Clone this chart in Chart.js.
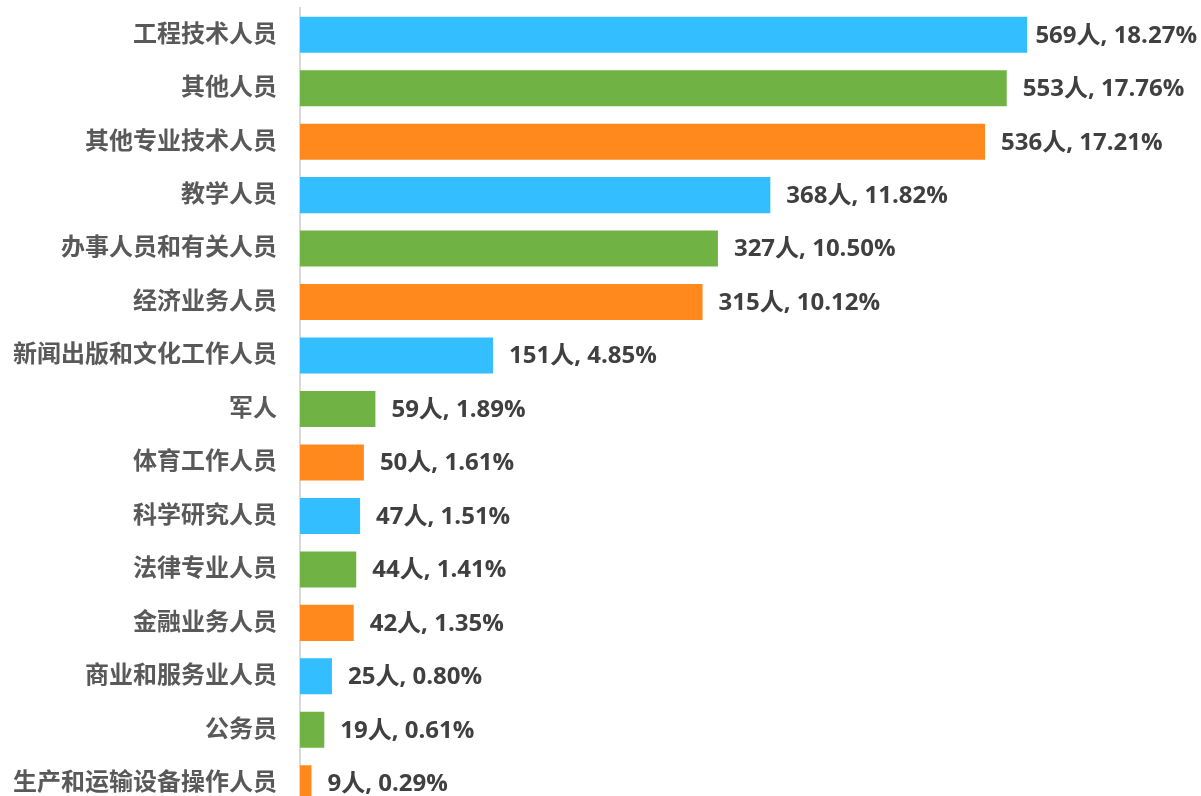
<!DOCTYPE html>
<html>
<head>
<meta charset="utf-8">
<script src="https://cdn.jsdelivr.net/npm/chart.js@4"></script>
<style>
  html, body { margin: 0; padding: 0; background: #fff; overflow: hidden; }
  #wrap { width: 1201px; height: 810px; }
</style>
</head>
<body>
<div id="wrap"><canvas id="chartCanvas" width="1201" height="810"></canvas></div>
<script>
const categories = [
  "工程技术人员", "其他人员", "其他专业技术人员", "教学人员", "办事人员和有关人员",
  "经济业务人员", "新闻出版和文化工作人员", "军人", "体育工作人员", "科学研究人员",
  "法律专业人员", "金融业务人员", "商业和服务业人员", "公务员", "生产和运输设备操作人员"
];
const counts = [569, 553, 536, 368, 327, 315, 151, 59, 50, 47, 44, 42, 25, 19, 9];
const percents = ["18.27", "17.76", "17.21", "11.82", "10.50", "10.12", "4.85", "1.89",
  "1.61", "1.51", "1.41", "1.35", "0.80", "0.61", "0.29"];
const palette = ["#33BFFF", "#70B244", "#FF891C"];

const fontFamily = '"Open Sans", "Noto Sans CJK SC", sans-serif';

// draw "N人, P%" after each bar, kept inside the canvas
const barLabels = {
  id: "barLabels",
  afterDatasetsDraw(chart) {
    const ctx = chart.ctx;
    const meta = chart.getDatasetMeta(0);
    ctx.save();
    ctx.font = "bold 24px " + fontFamily;
    ctx.fillStyle = "#404040";
    ctx.textBaseline = "middle";
    meta.data.forEach((bar, i) => {
      const text = counts[i] + "人, " + percents[i] + "%";
      const w = ctx.measureText(text).width;
      const x = Math.min(bar.x + 16, chart.width - w - 4);
      ctx.fillText(text, x, bar.y + 1);
    });
    ctx.restore();
  }
};

new Chart(document.getElementById("chartCanvas"), {
  type: "bar",
  data: {
    labels: categories,
    datasets: [{
      data: counts,
      backgroundColor: counts.map((_, i) => palette[i % 3]),
      borderWidth: 0,
      barPercentage: 0.674,
      categoryPercentage: 1
    }]
  },
  options: {
    indexAxis: "y",
    responsive: false,
    animation: false,
    layout: { padding: { top: 8, right: 0, bottom: 0, left: 0 } },
    plugins: {
      legend: { display: false },
      tooltip: { enabled: false }
    },
    scales: {
      x: { display: false, min: 0, max: 705 },
      y: {
        afterFit(scale) {
          scale.width = 300;
          scale.paddingTop = 0;
          scale.paddingBottom = 0;
        },
        grid: { display: false, drawTicks: false },
        border: { display: true, color: "#d9d9d9", width: 2 },
        ticks: {
          padding: 23,
          color: "#595959",
          font: { family: fontFamily, size: 24, weight: "bold" }
        }
      }
    }
  },
  plugins: [barLabels]
});
</script>
</body>
</html>
